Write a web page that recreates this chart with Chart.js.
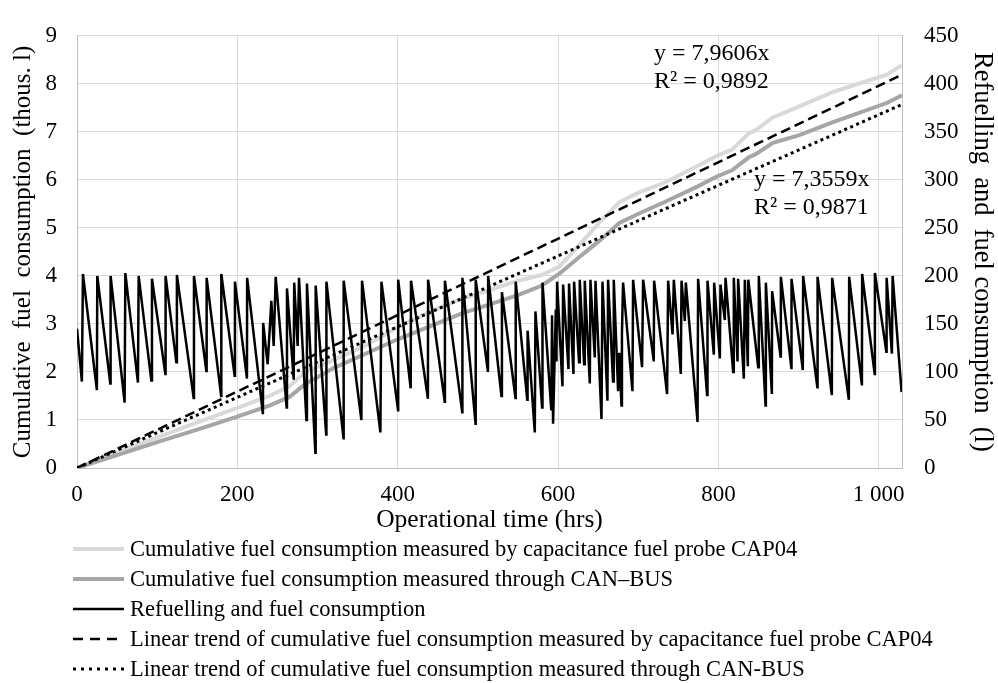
<!DOCTYPE html>
<html lang="en">
<head>
<meta charset="UTF-8">
<title>Cumulative fuel consumption</title>
<script src="https://cdn.jsdelivr.net/npm/chart.js@4.4.1/dist/chart.umd.min.js"></script>
<style>
    html, body { margin: 0; padding: 0; background: #fff; }
    .wrap { width: 998px; height: 683px; position: relative; }
</style>
</head>
<body>
<div class="wrap"><canvas id="fuelChart"></canvas></div>
<script>
// cumulative consumption (thousands of litres, left axis)
const cumHours  = [0, 50, 100, 150, 200, 240, 265, 285, 320, 360, 400, 440, 480, 510, 550, 580, 602, 627, 652, 677, 701, 733, 775, 798, 817, 838, 846, 868, 901, 943, 1010, 1029];
const cap04Cum  = [0, 0.32, 0.64, 0.95, 1.25, 1.5, 1.7, 2.0, 2.25, 2.55, 2.93, 3.25, 3.52, 3.68, 3.9, 4.02, 4.2, 4.65, 5.12, 5.54, 5.74, 5.94, 6.30, 6.50, 6.63, 6.97, 7.03, 7.30, 7.53, 7.83, 8.19, 8.39];
const canbusCum = [0, 0.27, 0.54, 0.8, 1.07, 1.3, 1.48, 1.75, 2.08, 2.38, 2.68, 2.95, 3.22, 3.38, 3.6, 3.8, 4.05, 4.4, 4.74, 5.11, 5.30, 5.54, 5.87, 6.07, 6.20, 6.47, 6.53, 6.77, 6.93, 7.20, 7.60, 7.76];

// tank level: refuelling and consumption (litres, right axis)
const refuelHours = [0, 6.1, 7.4, 24.8, 25.3, 41.5, 41.9, 59.4, 60.3, 76.0, 76.9, 92.7, 93.5, 110.2, 110.5, 123.9, 124.6, 145.5, 145.9, 161.3,
    161.7, 179.8, 180.0, 196.6, 197.0, 212.0, 212.2, 231.9, 232.2, 237.8, 242.4, 245.3, 247.8, 261.5, 261.9, 270.3, 270.9, 275.2, 276.9, 286.1,
    286.8, 297.3, 297.7, 310.8, 311.1, 332.4, 332.6, 354.7, 355.5, 378.4, 379.7, 400.4, 400.6, 416.2, 416.6, 437.7, 437.9, 458.7, 458.9, 480.5,
    480.7, 497.1, 497.3, 512.6, 512.8, 529.4, 530.0, 546.9, 547.2, 561.6, 562.0, 571.0, 571.8, 580.1, 580.6, 591.6, 592.5, 593.8, 597.2, 598.0,
    598.8, 605.5, 606.3, 613.0, 613.7, 619.2, 620.0, 626.2, 627.1, 632.5, 633.3, 639.6, 640.4, 645.8, 646.7, 654.2, 655.4, 661.6, 662.4, 668.6,
    669.5, 674.9, 676.4, 679.1, 679.7, 681.1, 692.8, 693.6, 704.8, 706.1, 719.4, 719.8, 736.0, 737.3, 742.8, 744.4, 753.1, 754.0, 758.1, 759.4,
    774.0, 774.7, 785.9, 786.4, 794.3, 794.7, 801.8, 802.6, 808.0, 808.9, 818.4, 819.2, 823.9, 824.6, 831.7, 833.0, 836.7, 837.3, 849.6, 850.4,
    858.8, 859.2, 866.7, 867.0, 877.5, 877.9, 891.0, 891.2, 905.3, 905.7, 923.4, 923.7, 941.5, 941.9, 962.7, 963.1, 979.0, 979.3, 994.9, 995.2,
    1009.5, 1009.8, 1016.4, 1017.3, 1028.5];
const refuelLitres = [145, 90, 202, 81, 200, 88, 200, 68, 203, 89, 200, 91, 197, 98, 200, 110, 201, 73, 200, 101,
    198, 75, 202, 96, 194, 93, 198, 56, 151, 108, 174, 127, 199, 63, 187, 92, 193, 127, 198, 50,
    192, 16, 190, 35, 194, 31, 195, 50, 195, 37, 194, 60, 196, 83, 195, 72, 196, 69, 195, 58,
    198, 46, 196, 100, 200, 75, 183, 73, 194, 71, 143, 37, 163, 63, 193, 60, 159, 46, 165, 111,
    194, 85, 191, 103, 192, 98, 194, 110, 196, 108, 195, 88, 196, 115, 195, 51, 194, 70, 196, 90,
    196, 80, 120, 65, 140, 193, 80, 196, 105, 196, 111, 195, 77, 195, 139, 196, 98, 195, 153, 193,
    48, 197, 76, 195, 118, 193, 114, 191, 154, 198, 100, 198, 111, 197, 93, 196, 106, 196, 105, 200,
    65, 193, 77, 184, 116, 199, 104, 197, 102, 200, 84, 199, 76, 198, 71, 199, 86, 202, 98, 203,
    121, 198, 119, 200, 79];

// linear trends, end points
const trendHours  = [0, 1029];
const cap04Trend  = [0, 8.19];
const canbusTrend = [0, 7.57];

// x axis tick values
const hourTicks = [0, 200, 400, 600, 800, 1000];

const equations = [
    ['y = 7,9606x', 'R\u00b2 = 0,9892'],
    ['y = 7,3559x', 'R\u00b2 = 0,9871']
];

const FONT = "'Liberation Serif', 'Times New Roman', serif";
const pts = (xs, ys) => xs.map((x, i) => ({ x: x, y: ys[i] }));
const spaced = v => String(v).replace(/\B(?=(\d{3})+(?!\d))/g, ' ');

// legend drawn under the axis, one item per row
const bottomLegend = {
    id: 'bottomLegend',
    afterDraw(chart) {
        const ctx = chart.ctx;
        ctx.save();
        ctx.font = '22.5px ' + FONT;
        ctx.fillStyle = '#000';
        ctx.textBaseline = 'middle';
        chart.data.datasets.forEach((ds, i) => {
            const y = 549 + i * 30;
            ctx.beginPath();
            ctx.strokeStyle = ds.borderColor;
            ctx.lineWidth = ds.borderWidth;
            ctx.setLineDash(ds.legendDash || []);
            ctx.moveTo(73, y);
            ctx.lineTo(124, y);
            ctx.stroke();
            ctx.setLineDash([]);
            ctx.fillText(ds.label, 130, y + 1);
        });
        ctx.restore();
    }
};

// trend equations
const equationText = {
    id: 'equationText',
    afterDatasetsDraw(chart) {
        const ctx = chart.ctx;
        ctx.save();
        ctx.font = '24px ' + FONT;
        ctx.fillStyle = '#000';
        ctx.textBaseline = 'alphabetic';
        ctx.fillText(equations[0][0], 654, 60);
        ctx.fillText(equations[0][1], 654, 88);
        ctx.fillText(equations[1][0], 754, 186);
        ctx.fillText(equations[1][1], 754, 214);
        ctx.restore();
    }
};

const ctx = document.getElementById('fuelChart').getContext('2d');
new Chart(ctx, {
    type: 'line',
    data: {
        datasets: [
            {
                label: 'Cumulative fuel consumption measured by capacitance fuel probe CAP04',
                data: pts(cumHours, cap04Cum),
                yAxisID: 'y',
                borderColor: '#d9d9d9',
                borderWidth: 4,
                order: 4
            },
            {
                label: 'Cumulative fuel consumption measured through CAN\u2013BUS',
                data: pts(cumHours, canbusCum),
                yAxisID: 'y',
                borderColor: '#a6a6a6',
                borderWidth: 4,
                order: 3
            },
            {
                label: 'Refuelling and fuel consumption',
                data: pts(refuelHours, refuelLitres),
                yAxisID: 'y1',
                borderColor: '#000',
                borderWidth: 2.5,
                order: 0
            },
            {
                label: 'Linear trend of cumulative fuel consumption measured by capacitance fuel probe CAP04',
                data: pts(trendHours, cap04Trend),
                yAxisID: 'y',
                borderColor: '#000',
                borderWidth: 2.5,
                borderDash: [10, 5],
                legendDash: [10, 7],
                order: 1
            },
            {
                label: 'Linear trend of cumulative fuel consumption measured through CAN-BUS',
                data: pts(trendHours, canbusTrend),
                yAxisID: 'y',
                borderColor: '#000',
                borderWidth: 3,
                borderDash: [3, 3.5],
                legendDash: [3, 5],
                order: 2
            }
        ]
    },
    options: {
        responsive: true,
        maintainAspectRatio: false,
        animation: false,
        layout: { padding: { top: 16, bottom: 147, left: 0, right: 0 } },
        elements: {
            point: { radius: 0, hoverRadius: 0 },
            line: { tension: 0, fill: false }
        },
        plugins: {
            legend: { display: false },
            tooltip: { enabled: false }
        },
        scales: {
            x: {
                type: 'linear',
                min: 0,
                max: 1029,
                afterBuildTicks(s) { s.ticks = hourTicks.map(v => ({ value: v })); },
                ticks: {
                    padding: 13,
                    color: '#000',
                    font: { family: FONT, size: 23 },
                    callback: v => spaced(v)
                },
                grid: { color: '#d9d9d9', drawTicks: false },
                border: { color: '#bfbfbf' },
                title: {
                    display: true,
                    text: 'Operational time (hrs)',
                    color: '#000',
                    font: { family: FONT, size: 25.5 },
                    padding: 0
                },
                afterFit(s) { s.height = 68; }
            },
            y: {
                position: 'left',
                min: 0,
                max: 9,
                ticks: {
                    stepSize: 1,
                    padding: 20,
                    color: '#000',
                    font: { family: FONT, size: 23 }
                },
                grid: { color: '#d9d9d9', drawTicks: false },
                border: { color: '#bfbfbf' },
                title: {
                    display: true,
                    text: 'Cumulative  fuel  consumption  (thous. l)',
                    color: '#000',
                    font: { family: FONT, size: 25 },
                    padding: { top: 8, bottom: 0 }
                },
                afterFit(s) { s.width = 77; }
            },
            y1: {
                position: 'right',
                min: 0,
                max: 450,
                ticks: {
                    stepSize: 50,
                    padding: 22,
                    color: '#000',
                    font: { family: FONT, size: 23 }
                },
                grid: { display: false, drawTicks: false },
                border: { display: true, color: '#bfbfbf' },
                title: {
                    display: true,
                    text: 'Refuelling  and  fuel consumption  (l)',
                    color: '#000',
                    font: { family: FONT, size: 26.5 },
                    padding: { top: 0, bottom: 0 }
                },
                afterFit(s) { s.width = 96; }
            }
        }
    },
    plugins: [bottomLegend, equationText]
});
</script>
</body>
</html>
